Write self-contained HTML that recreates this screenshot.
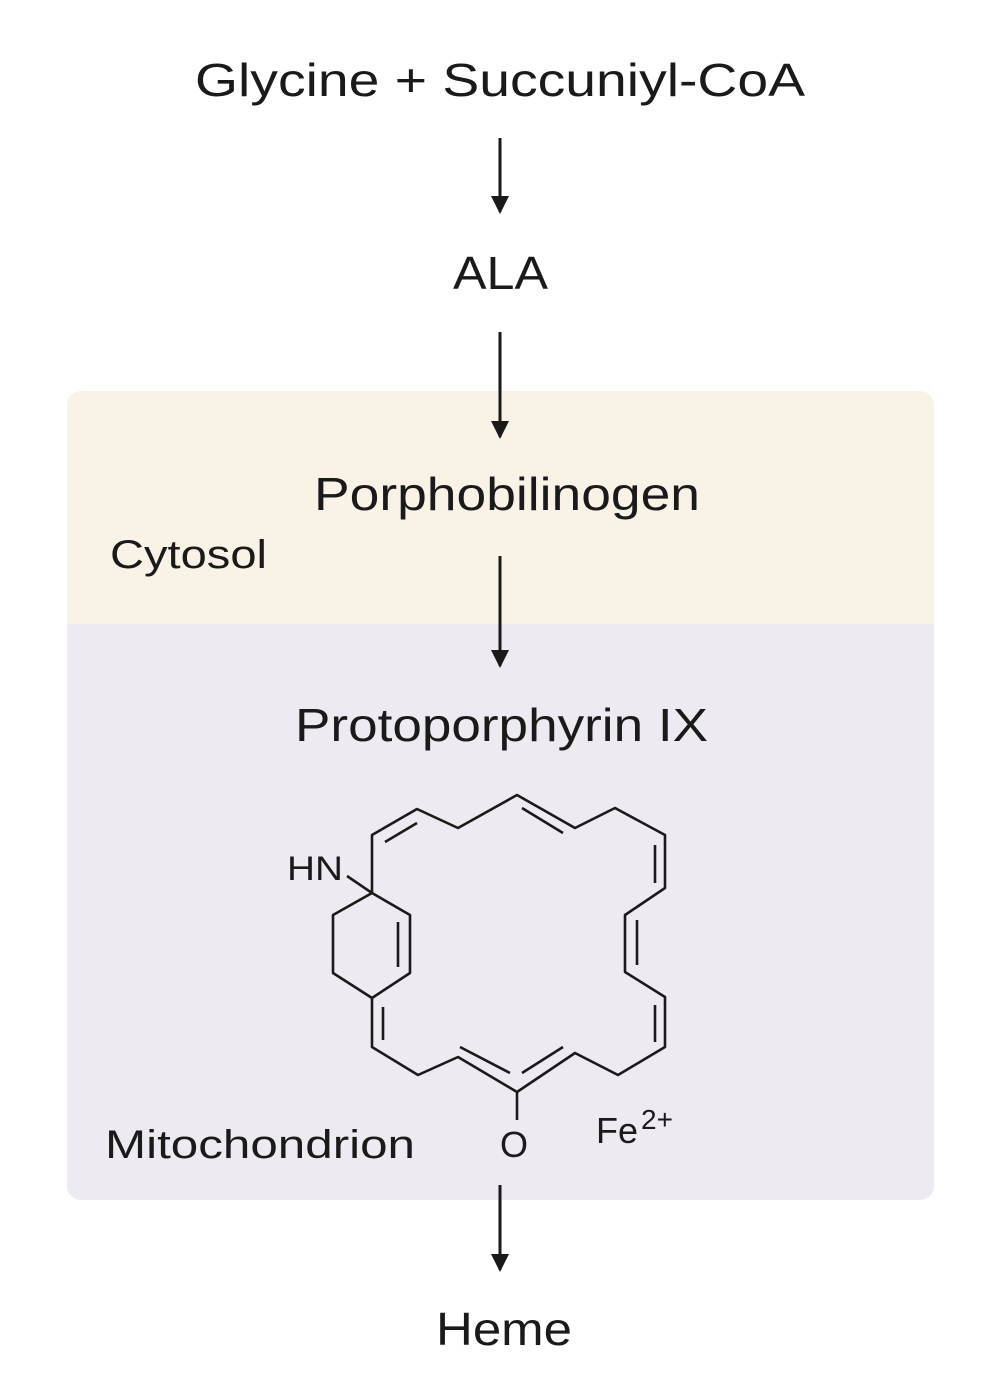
<!DOCTYPE html>
<html><head><style>html,body{margin:0;padding:0;background:#fff}</style></head>
<body>
<svg width="1000" height="1381" viewBox="0 0 1000 1381" xmlns="http://www.w3.org/2000/svg" font-family="Liberation Sans, sans-serif" fill="#1a1a1a">
<defs><clipPath id="c"><rect x="67" y="391" width="867" height="809" rx="14"/></clipPath></defs>
<g clip-path="url(#c)">
<rect x="67" y="391" width="867" height="233" fill="#f9f3e7"/>
<rect x="67" y="624" width="867" height="576" fill="#eeeaf1"/>
</g>
<text x="195" y="96" font-size="46" textLength="610" lengthAdjust="spacingAndGlyphs">Glycine + Succuniyl-CoA</text>
<text x="453" y="289" font-size="46" textLength="95" lengthAdjust="spacingAndGlyphs">ALA</text>
<text x="314" y="510" font-size="46" textLength="386" lengthAdjust="spacingAndGlyphs">Porphobilinogen</text>
<text x="110" y="568" font-size="40" textLength="157" lengthAdjust="spacingAndGlyphs">Cytosol</text>
<text x="295" y="741" font-size="46" textLength="413" lengthAdjust="spacingAndGlyphs">Protoporphyrin IX</text>
<text x="105" y="1158" font-size="40" textLength="310" lengthAdjust="spacingAndGlyphs">Mitochondrion</text>
<text x="436" y="1345" font-size="46" textLength="136" lengthAdjust="spacingAndGlyphs">Heme</text>
<text x="287" y="880" font-size="34" textLength="56" lengthAdjust="spacingAndGlyphs">HN</text>
<text x="500" y="1157" font-size="36">O</text>
<text x="596" y="1143" font-size="36">Fe<tspan font-size="28" dy="-14" dx="3">2+</tspan></text>
<g stroke="#1a1a1a" stroke-width="3" fill="none">
<line x1="500" y1="138" x2="500" y2="212"/>
<line x1="500" y1="332" x2="500" y2="437"/>
<line x1="500" y1="556" x2="500" y2="666"/>
<line x1="500" y1="1185" x2="500" y2="1270"/>
</g>
<g fill="#1a1a1a">
<polygon points="491,196 509,196 500,214"/>
<polygon points="491,421 509,421 500,439"/>
<polygon points="491,650 509,650 500,668"/>
<polygon points="491,1254 509,1254 500,1272"/>
</g>
<g stroke="#1a1a1a" stroke-width="2.6" fill="none" stroke-linejoin="round">
<polyline points="372,893 372,835 417,809 458,828 517,795 575,828 615,808 665,835 665,888 625,915 625,972 665,997 665,1047 618,1075 575,1053 517,1092 458,1057 418,1075 372,1047 372,998 410,973 410,915 372,893 333,915 333,973 372,998"/>
<line x1="347" y1="876" x2="372" y2="893"/>
<line x1="517" y1="1092" x2="517" y2="1120"/>
<line x1="385" y1="842" x2="417" y2="823"/>
<line x1="522" y1="808" x2="563" y2="833"/>
<line x1="655" y1="845" x2="655" y2="883"/>
<line x1="637" y1="920" x2="637" y2="965"/>
<line x1="655" y1="1005" x2="655" y2="1042"/>
<line x1="563" y1="1047" x2="522" y2="1073"/>
<line x1="460" y1="1047" x2="510" y2="1073"/>
<line x1="383" y1="1007" x2="383" y2="1040"/>
<line x1="398" y1="922" x2="398" y2="967"/>
</g>
</svg>
</body></html>
